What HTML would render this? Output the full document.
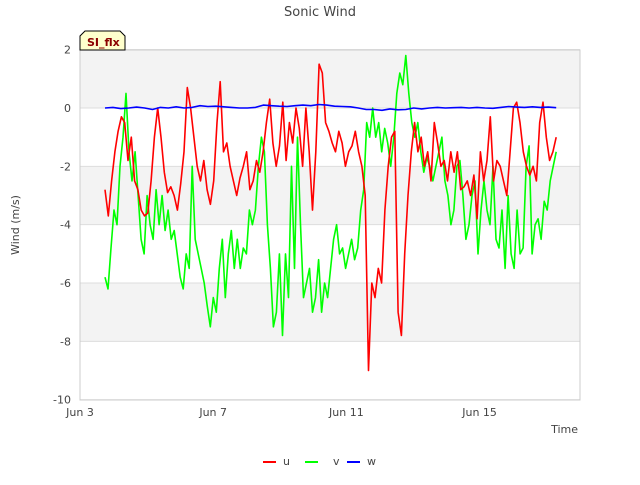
<!DOCTYPE html>
<html><head><meta charset="utf-8"><style>
body{margin:0;background:#fff;font-family:"Liberation Sans","DejaVu Sans",sans-serif}
svg text{font-family:"DejaVu Sans","Liberation Sans",sans-serif}
</style></head><body>
<svg id="chart" width="640" height="480" xmlns="http://www.w3.org/2000/svg">
<rect x="0" y="0" width="640" height="480" fill="#fff"/>
<g id="bands"></g>
<g id="grid"></g>
<rect x="80" y="50" width="500" height="350" fill="none" stroke="#ccc"/>
<g id="ticks"></g>
<g id="series"></g>
<text x="320" y="16" font-size="13" fill="#444" text-anchor="middle">Sonic Wind</text>
<text x="19" y="225" font-size="11" fill="#444" text-anchor="middle" transform="rotate(-90 19 225)">Wind (m/s)</text>
<text x="578" y="433" font-size="11" fill="#444" text-anchor="end">Time</text>
<g>
<path d="M80,50 L80,36 L85,31 L120,31 L125,36 L125,50 Z" fill="#ffffcc" stroke="#000" stroke-width="1"/>
<text x="87" y="46" font-size="11" font-weight="bold" fill="#8b0000">SI_flx</text>
</g>
<g>
<g><line x1="263" y1="462" x2="276" y2="462" stroke="#f00" stroke-width="2"/><text x="283" y="465" font-size="11" fill="#444">u</text></g>
<g><line x1="305" y1="462" x2="318" y2="462" stroke="#0f0" stroke-width="2"/><text x="333" y="465" font-size="11" fill="#444">v</text></g>
<g><line x1="347" y1="462" x2="360" y2="462" stroke="#00f" stroke-width="2"/><text x="367" y="465" font-size="11" fill="#444">w</text></g>
</g>
</svg>
<script>
const yTicks=[2,0,-2,-4,-6,-8,-10];
const xTickDays=[0,4,8,12];
const xTickLabels=["Jun 3","Jun 7","Jun 11","Jun 15"];
const startDay=0.75, endDay=14.3;
const uVals=[-2.8,-3.7,-2.5,-1.5,-0.8,-0.3,-0.5,-1.8,-1.0,-2.5,-2.8,-3.5,-3.7,-3.6,-2.5,-1.0,0.0,-1.0,-2.2,-2.9,-2.7,-3.0,-3.5,-2.6,-1.5,0.7,0.0,-1.0,-2.0,-2.5,-1.8,-2.8,-3.3,-2.5,-0.5,0.9,-1.5,-1.2,-2.0,-2.5,-3.0,-2.4,-2.0,-1.5,-2.8,-2.5,-1.8,-2.2,-1.5,-0.5,0.3,-1.2,-2.0,-1.3,0.2,-1.8,-0.5,-1.2,0.0,-0.7,-2.0,0.0,-1.5,-3.5,-1.5,1.5,1.2,-0.5,-0.8,-1.2,-1.5,-0.8,-1.2,-2.0,-1.5,-1.3,-0.8,-1.5,-2.0,-3.0,-9.0,-6.0,-6.5,-5.5,-6.0,-3.5,-2.0,-1.0,-0.8,-7.0,-7.8,-5.0,-3.0,-1.5,-0.5,-1.5,-1.0,-2.0,-1.5,-2.5,-0.5,-1.2,-2.0,-1.8,-2.5,-1.5,-2.2,-1.5,-2.8,-2.7,-2.5,-3.0,-2.3,-3.8,-1.5,-2.5,-1.8,-0.3,-2.5,-1.8,-2.0,-2.5,-3.0,-1.5,0.0,0.2,-0.5,-1.5,-2.0,-2.3,-2.0,-2.5,-0.5,0.2,-1.0,-1.8,-1.5,-1.0];
const vVals=[-5.8,-6.2,-4.8,-3.5,-4.0,-2.0,-1.0,0.5,-1.5,-2.5,-1.5,-3.0,-4.5,-5.0,-3.0,-4.0,-4.5,-2.8,-4.0,-3.0,-4.2,-3.5,-4.5,-4.2,-5.0,-5.8,-6.2,-5.0,-5.5,-2.0,-4.5,-5.0,-5.5,-6.0,-6.8,-7.5,-6.5,-7.0,-5.5,-4.5,-6.5,-5.0,-4.2,-5.5,-4.5,-5.5,-4.8,-5.0,-3.5,-4.0,-3.5,-2.0,-1.0,-1.5,-4.0,-5.5,-7.5,-7.0,-5.0,-7.8,-5.0,-6.5,-2.0,-5.5,-1.0,-4.0,-6.5,-6.0,-5.5,-7.0,-6.5,-5.2,-7.0,-6.0,-6.5,-5.5,-4.5,-4.0,-5.0,-4.8,-5.5,-5.0,-4.5,-5.2,-4.8,-3.5,-2.8,-0.5,-1.0,0.0,-1.0,-0.5,-1.5,-0.7,-1.2,-2.0,-1.0,0.5,1.2,0.8,1.8,0.5,-0.5,-1.0,-0.5,-1.5,-2.2,-1.7,-2.0,-2.5,-2.0,-1.5,-1.0,-2.5,-3.0,-4.0,-3.5,-2.0,-1.8,-3.0,-4.5,-4.0,-3.0,-2.5,-5.0,-3.5,-2.5,-3.5,-4.0,-2.0,-4.5,-4.8,-3.5,-5.5,-3.0,-5.0,-5.5,-3.5,-5.0,-4.8,-2.0,-1.3,-5.0,-4.0,-3.8,-4.5,-3.2,-3.5,-2.5,-2.0,-1.5];
const wVals=[0.0,0.02,-0.02,0.0,0.03,0.0,-0.05,0.02,0.0,0.04,0.0,0.02,0.08,0.05,0.06,0.04,0.02,0.0,0.0,0.02,0.1,0.08,0.06,0.05,0.08,0.1,0.08,0.12,0.1,0.06,0.05,0.04,0.0,-0.05,-0.05,-0.08,-0.03,-0.06,-0.05,0.0,-0.03,0.0,0.02,0.0,0.01,0.02,0.0,0.02,0.0,-0.01,0.02,0.05,0.03,0.02,0.04,0.02,0.03,0.01];
const xS=d=>80+d*33.3;
const yS=v=>108-v*29.17;
const NS="http://www.w3.org/2000/svg";
const bands=document.getElementById('bands'),grid=document.getElementById('grid'),ticks=document.getElementById('ticks'),series=document.getElementById('series');
for(let i=0;i<yTicks.length-1;i++){
  if(i%2===0){const r=document.createElementNS(NS,'rect');
  r.setAttribute('x',80);r.setAttribute('y',yS(yTicks[i]));r.setAttribute('width',500);r.setAttribute('height',yS(yTicks[i+1])-yS(yTicks[i]));r.setAttribute('fill','#f3f3f3');
  
  
  bands.appendChild(r);}
}
yTicks.forEach(v=>{
  const l=document.createElementNS(NS,'line');
  l.setAttribute('x1',80);l.setAttribute('x2',580);l.setAttribute('y1',yS(v));l.setAttribute('y2',yS(v));l.setAttribute('stroke','#ddd');
  
  
  grid.appendChild(l);
  const t=document.createElementNS(NS,'text');
  t.setAttribute('x',71);t.setAttribute('y',yS(v)+4);t.setAttribute('font-size','11');t.setAttribute('fill','#444');t.setAttribute('text-anchor','end');t.textContent=v;
  
  
  ticks.appendChild(t);
});
xTickDays.forEach((d,i)=>{
  const t=document.createElementNS(NS,'text');
  t.setAttribute('x',xS(d));t.setAttribute('y',416);t.setAttribute('font-size','11');t.setAttribute('fill','#444');t.setAttribute('text-anchor','middle');t.textContent=xTickLabels[i];
  
  
  ticks.appendChild(t);
});
function draw(vals,color,name,sw){
  const n=vals.length;
  const pts=vals.map((v,i)=>xS(startDay+i*(endDay-startDay)/(n-1)).toFixed(1)+','+yS(v).toFixed(1)).join(' ');
  const p=document.createElementNS(NS,'polyline');
  p.setAttribute('points',pts);p.setAttribute('fill','none');p.setAttribute('stroke',color);p.setAttribute('stroke-width',sw);p.setAttribute('stroke-linejoin','round');
  
  
  series.appendChild(p);
}
draw(vVals,'#00ff00','series-v',1.6);
draw(uVals,'#ff0000','series-u',1.6);
draw(wVals,'#0000ff','series-w',1.6);
</script>
</body></html>
